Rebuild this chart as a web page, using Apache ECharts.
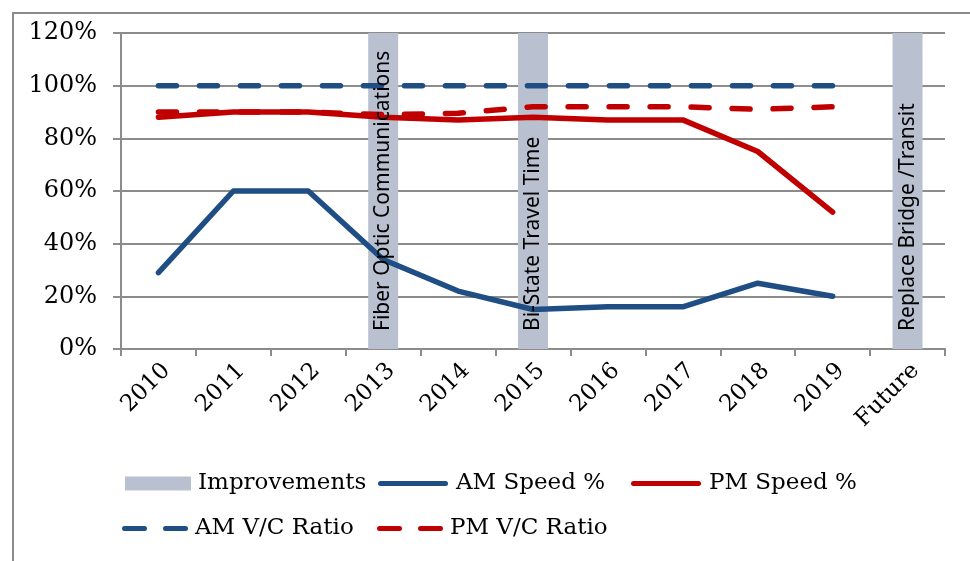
<!DOCTYPE html>
<html>
<head>
<meta charset="utf-8">
<script src="https://cdn.jsdelivr.net/npm/echarts@6/dist/echarts.min.js"></script>
<style>
html,body{margin:0;padding:0;background:#fff;}
#chart{width:970px;height:561px;}
</style>
</head>
<body>
<div id="chart"></div>
<script>
const categories = ['2010','2011','2012','2013','2014','2015','2016','2017','2018','2019','Future'];
const improvements = [null,null,null,120,null,120,null,null,null,null,120];
const improvementLabels = ['','','','Fiber Optic Communications','','Bi-State Travel Time','','','','','Replace Bridge /Transit'];
const amSpeed = [29,60,60,34,22,15,16,16,25,20,null];
const pmSpeed = [88,90,90,88,87,88,87,87,75,52,null];
const amVC = [100,100,100,100,100,100,100,100,100,100,null];
const pmVC = [90,90,90,89,89.5,92,92,92,91,92,null];
const yTicks = {min:0, max:120, interval:20};

const BLUE = '#1F4E85', RED = '#C00000', GRAYBAR = '#B9C1D0', AXIS = '#8C8C8C';
const serif = 'DejaVu Serif';
const chart = echarts.init(document.getElementById('chart'));

const SOLID_ICON = 'path://M2.5,0 H67.5 A2.5,2.5 0 0 1 67.5,5 H2.5 A2.5,2.5 0 0 1 2.5,0 Z';
const DASH_ICON = 'path://M2.5,0 H22.5 A2.5,2.5 0 0 1 22.5,5 H2.5 A2.5,2.5 0 0 1 2.5,0 Z M43.5,0 H63.5 A2.5,2.5 0 0 1 63.5,5 H43.5 A2.5,2.5 0 0 1 43.5,0 Z';

function legendAt(name, left, top, icon, w, h) {
  return {
    data:[{name:name, icon:icon}], left:left, top:top, padding:0, itemWidth:w, itemHeight:h, itemGap:0,
    textStyle:{fontFamily:serif, fontSize:23, color:'#000', padding:[0,0,0,2]},
    selectedMode:false
  };
}

chart.setOption({
  animation:false,
  backgroundColor:'#fff',
  grid:{left:121, right:25, top:33, bottom:212},
  graphic:[
    {type:'line', shape:{x1:13, y1:12, x2:13, y2:561}, style:{stroke:AXIS, lineWidth:2}},
    {type:'line', shape:{x1:12, y1:13, x2:970, y2:13}, style:{stroke:AXIS, lineWidth:2}}
  ],
  legend:[
    legendAt('Improvements', 125, 472, 'rect', 66, 14),
    legendAt('AM Speed %', 378, 472, SOLID_ICON, 72, 5),
    legendAt('PM Speed %', 631, 472, SOLID_ICON, 72, 5),
    legendAt('AM V/C Ratio', 122, 517, DASH_ICON, 66, 5),
    legendAt('PM V/C Ratio', 377, 517, DASH_ICON, 66, 5)
  ],
  xAxis:{
    type:'category', data:categories, boundaryGap:true,
    axisLine:{lineStyle:{color:AXIS, width:2}},
    axisTick:{show:true, length:7, lineStyle:{color:AXIS, width:2}, alignWithLabel:false},
    axisLabel:{rotate:45, margin:10, verticalAlign:'top', fontFamily:serif, fontSize:23, color:'#000', interval:0},
    splitLine:{show:false}
  },
  yAxis:{
    type:'value', min:yTicks.min, max:yTicks.max, interval:yTicks.interval,
    axisLine:{show:true, lineStyle:{color:AXIS, width:2}},
    axisTick:{show:true, length:8, lineStyle:{color:AXIS, width:2}},
    axisLabel:{formatter:'{value}%', margin:24, fontFamily:serif, fontSize:24, color:'#000'},
    splitLine:{show:true, lineStyle:{color:AXIS, width:2}}
  },
  series:[
    {
      name:'Improvements', type:'bar', barWidth:30,
      data:improvements,
      itemStyle:{color:GRAYBAR},
      z:1
    },
    {
      name:'Improvement labels', type:'bar', barWidth:30, barGap:'-100%',
      data:improvements,
      itemStyle:{color:'rgba(0,0,0,0)'},
      label:{
        show:true, position:'insideBottom', rotate:90, align:'left', verticalAlign:'middle',
        distance:18, fontFamily:'Noto Sans', fontSize:21, color:'#000',
        formatter:function(p){ return improvementLabels[p.dataIndex]; }
      },
      z:6
    },
    {
      name:'AM Speed %', type:'line', data:amSpeed, symbol:'none', showSymbol:false,
      lineStyle:{color:BLUE, width:5.5, cap:'round', join:'round'}, itemStyle:{color:BLUE}, z:3
    },
    {
      name:'PM Speed %', type:'line', data:pmSpeed, symbol:'none', showSymbol:false,
      lineStyle:{color:RED, width:5.5, cap:'round', join:'round'}, itemStyle:{color:RED}, z:3
    },
    {
      name:'AM V/C Ratio', type:'line', data:amVC, symbol:'none', showSymbol:false,
      lineStyle:{color:BLUE, width:5.5, type:[18,23], cap:'round'}, itemStyle:{color:BLUE}, z:3
    },
    {
      name:'PM V/C Ratio', type:'line', data:pmVC, symbol:'none', showSymbol:false,
      lineStyle:{color:RED, width:5.5, type:[18,23], cap:'round'}, itemStyle:{color:RED}, z:3
    }
  ]
});
</script>
</body>
</html>
